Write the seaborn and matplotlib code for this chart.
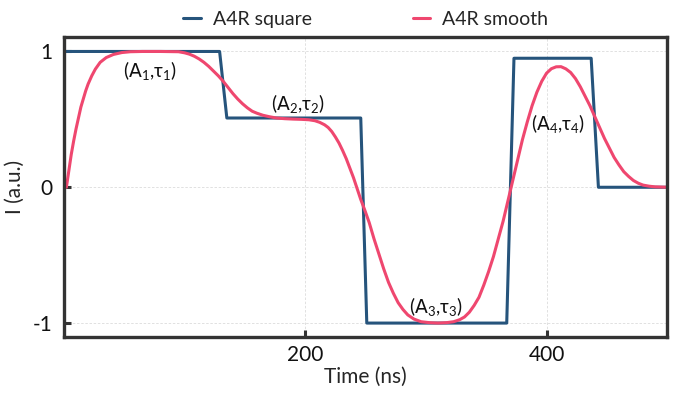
import numpy as np
import pandas as pd
import matplotlib
matplotlib.use("Agg")
import matplotlib.pyplot as plt
import seaborn as sns

# square pulse sequence
sq_t = [0, 129, 135, 246, 251, 367, 373, 437, 443, 500]
sq_i = [1.0, 1.0, 0.51, 0.51, -1.0, -1.0, 0.95, 0.95, 0.0, 0.0]

# smoothed pulse sequence
sm_t = [2, 4, 6, 8, 10, 12, 14, 16, 18, 20, 23, 26, 30, 35, 41, 48, 55, 65, 80,
        95, 100, 104, 108, 112, 116, 120, 124, 128, 132, 136, 140, 144, 148, 152,
        156, 160, 165, 170, 176, 183, 190, 197, 203, 208, 212, 216, 219, 222, 225,
        228, 231, 234, 237, 240, 243, 246, 249, 253, 257, 261, 265, 269, 273, 277,
        281, 285, 290, 296, 303, 310, 317, 323, 328, 332, 336, 340, 344, 348, 352,
        356, 360, 364, 368, 372, 376, 380, 384, 388, 392, 396, 400, 404, 408, 412,
        416, 420, 424, 428, 432, 436, 440, 444, 448, 452, 456, 460, 464, 468, 472,
        476, 480, 485, 490, 500]
sm_i = [0.0, 0.12, 0.24, 0.34, 0.43, 0.51, 0.59, 0.65, 0.71, 0.76, 0.82, 0.87,
        0.92, 0.955, 0.978, 0.992, 0.998, 1.0, 1.0, 0.998, 0.99, 0.98, 0.965,
        0.945, 0.92, 0.89, 0.855, 0.82, 0.78, 0.735, 0.69, 0.65, 0.615, 0.585,
        0.56, 0.545, 0.53, 0.52, 0.51, 0.505, 0.502, 0.50, 0.497, 0.49, 0.478,
        0.46, 0.44, 0.41, 0.37, 0.325, 0.27, 0.21, 0.14, 0.07, -0.01, -0.09,
        -0.16, -0.26, -0.38, -0.49, -0.60, -0.70, -0.78, -0.85, -0.90, -0.94,
        -0.97, -0.99, -0.997, -1.0, -0.997, -0.99, -0.975, -0.955, -0.92, -0.87,
        -0.81, -0.72, -0.62, -0.51, -0.38, -0.25, -0.10, 0.05, 0.20, 0.35, 0.48,
        0.60, 0.70, 0.78, 0.84, 0.873, 0.887, 0.888, 0.872, 0.845, 0.80, 0.74,
        0.67, 0.60, 0.52, 0.44, 0.36, 0.29, 0.22, 0.165, 0.115, 0.08, 0.05, 0.03,
        0.016, 0.008, 0.003, 0.0]

labels = [r"$(\mathrm{A}_1{,}\tau_1)$", r"$(\mathrm{A}_2{,}\tau_2)$",
          r"$(\mathrm{A}_3{,}\tau_3)$", r"$(\mathrm{A}_4{,}\tau_4)$"]
label_t = [71, 194, 308, 409]
label_i = [0.86, 0.62, -0.88, 0.47]

sns.set_theme(style="ticks")
plt.rcParams["font.family"] = ["Lato", "DejaVu Sans"]
plt.rcParams["mathtext.default"] = "regular"
plt.rcParams["axes.unicode_minus"] = False

fig = plt.figure(figsize=(6.77, 3.97), dpi=100)
ax = fig.add_axes([0.0945, 0.152, 0.891, 0.756])

sns.lineplot(x=sq_t, y=sq_i, ax=ax, color="#26547C", lw=2.2, label="A4R square")
sns.lineplot(x=sm_t, y=sm_i, ax=ax, color="#EF476F", lw=2.2, label="A4R smooth")

for lab, t, v in zip(labels, label_t, label_i):
    ax.text(t, v, lab, ha="center", va="center", fontsize=13.5, color="#111111")

ax.set_xlim(0, 500)
ax.set_ylim(-1.1, 1.11)
ax.set_xticks([200, 400])
ax.set_yticks([-1, 0, 1])
ax.grid(True, ls=(0, (3, 2)), lw=0.6, color="#dcdcdc")
for s in ax.spines.values():
    s.set_linewidth(2.4)
    s.set_color("#333333")
ax.tick_params(direction="in", length=5, width=2.2, color="#333333",
               labelsize=15, labelcolor="#111111")
ax.tick_params(axis="y", pad=8)
ax.tick_params(axis="x", pad=6)
ax.set_xlabel("Time (ns)", fontsize=15, labelpad=1)
ax.set_ylabel("I (a.u.)", fontsize=15, labelpad=6)

ax.legend(loc="lower center", bbox_to_anchor=(0.5, 1.0), ncol=2, frameon=False,
          fontsize=14, handlelength=0.9, columnspacing=5.2, handletextpad=0.6,
          borderaxespad=0.05)

fig.savefig("out.png", dpi=100)
